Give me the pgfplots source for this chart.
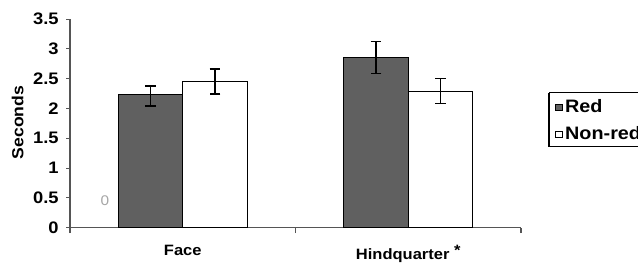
\documentclass[border=0pt]{standalone}
\usepackage{fontspec}
\setmainfont{Liberation Sans}[FakeStretch=1.1]
\usepackage{pgfplots}
\pgfplotsset{compat=1.18}
\definecolor{darkbar}{RGB}{96,96,96}
\definecolor{axisgray}{RGB}{85,85,85}
\pgfplotsset{sqlegend/.style={legend image code/.code={\draw[##1,draw=black,line width=0.6pt] (0pt,-2.5pt) rectangle (5pt,2.5pt);}}}
\newcommand{\lblfont}{\fontsize{11.25}{13}\selectfont\bfseries}
\begin{document}
\begin{tikzpicture}
\path[use as bounding box] (0pt,0pt) rectangle (478.5pt,196.5pt);
\begin{axis}[
  at={(52.5pt,25.7pt)}, anchor=south west,
  scale only axis, width=338.25pt, height=156.5pt,
  xmin=-0.5, xmax=1.5, ymin=0, ymax=3.5,
  ybar=0pt, bar width=48.4pt,
  axis x line=bottom, axis y line=left,
  axis line style={axisgray,-,line width=0.9pt},
  xtick={0,1}, xticklabels={Face, Hindquarter \raisebox{0.45ex}{*}},
  major x tick style={draw=none},
  minor xtick={-0.5,0.5,1.5},
  minor x tick style={axisgray,line width=0.8pt},
  minor tick length=4pt,
  ytick={0,0.5,1,1.5,2,2.5,3,3.5},
  major y tick style={axisgray,line width=0.8pt},
  major tick length=3pt,
  tick align=outside,
  /pgf/number format/assume math mode=true,
  xticklabel style={font=\lblfont, yshift=-6.5pt},
  yticklabel style={font=\fontsize{12.5}{14}\selectfont\bfseries, xshift=-2pt},
  ylabel={Seconds},
  ylabel style={at={(axis description cs:-0.116,0.504)}, anchor=center, font=\fontsize{12}{14}\selectfont\bfseries},
  legend style={at={(axis description cs:1.066,0.64)}, anchor=north west,
    draw=none, fill=none, font=\fontsize{13.5}{15}\selectfont\bfseries,
    inner xsep=3pt, inner ysep=2pt, row sep=5pt, cells={anchor=west}},
  error bars/y dir=both, error bars/y explicit,
  error bars/error mark options={rotate=90, mark size=4pt, line width=1.1pt, black},
  error bars/error bar style={line width=1.1pt, black},
]
\addplot[fill=darkbar, draw=black, line width=0.7pt, sqlegend]
  coordinates {(0,2.23) += (0,0.15) -= (0,0.19) (1,2.86) += (0,0.26) -= (0,0.27)};
\addplot[fill=white, draw=black, line width=0.7pt, sqlegend]
  coordinates {(0,2.46) += (0,0.20) -= (0,0.22) (1,2.29) += (0,0.21) -= (0,0.21)};
\legend{Red, Non-red}
\node[text=gray!70, font=\fontsize{10.5}{12}\selectfont] at (axis cs:-0.345,0.46) {0};
\end{axis}
\draw[black, line width=0.9pt] (411.75pt,127pt) -- (490pt,127pt);
\draw[black, line width=0.9pt] (411.75pt,127pt) -- (411.75pt,86.5pt) -- (490pt,86.5pt);
\end{tikzpicture}
\end{document}
